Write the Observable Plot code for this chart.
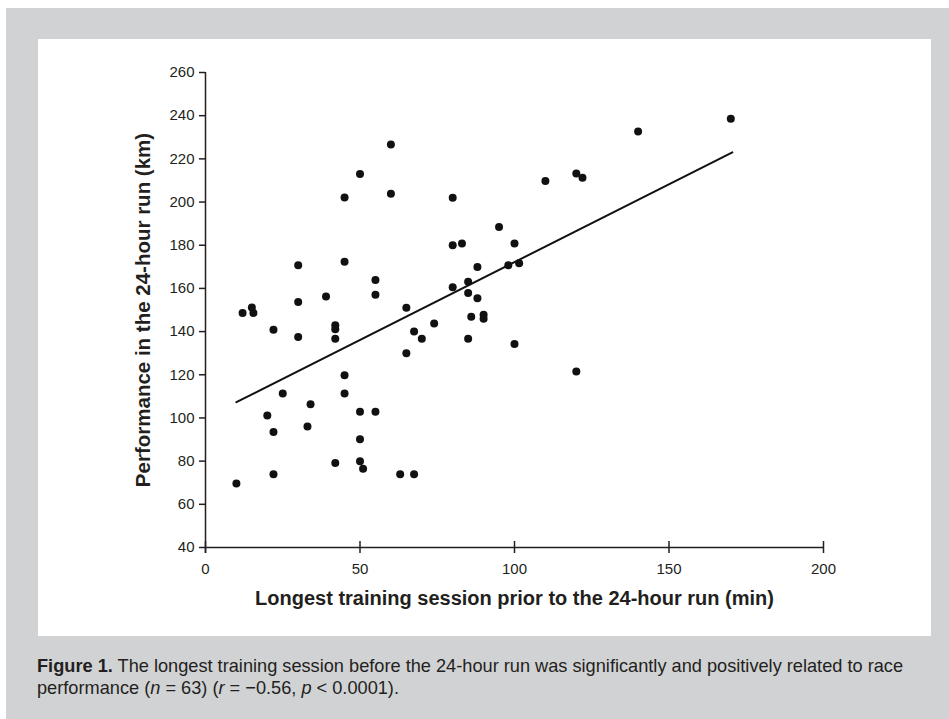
<!DOCTYPE html>
<html>
<head>
<meta charset="utf-8">
<script src="https://cdn.jsdelivr.net/npm/d3@7"></script>
<script src="https://cdn.jsdelivr.net/npm/@observablehq/plot@0.6"></script>
<style>
  html, body { margin: 0; padding: 0; background: #ffffff; }
  body { width: 949px; height: 719px; position: relative; overflow: hidden; font-family: "Liberation Sans", Arial, sans-serif; }
  #grey { position: absolute; left: 6px; top: 8px; width: 943px; height: 711px; background: #d1d2d4; }
  #panel { position: absolute; left: 38px; top: 39px; width: 893px; height: 597px; background: #ffffff; }
  #caption { position: absolute; left: 37px; top: 655px; width: 880px; font-size: 18.2px; line-height: 22px; color: #231f20; }
</style>
</head>
<body>
<div id="grey"></div>
<div id="panel"></div>
<div id="caption"><b>Figure 1.</b> The longest training session before the 24-hour run was significantly and positively related to race performance (<i>n</i> = 63) (<i>r</i> = −0.56, <i>p</i> &lt; 0.0001).</div>
<script>
// Longest training session (min)
const trainingMin = [30, 45, 55, 55, 39, 30, 12, 15, 15.5, 22, 30, 42, 42, 42, 45, 45, 25, 34, 20, 50, 55, 33, 22, 50, 42, 50, 51, 22, 63, 67.5, 10,
  65, 67.5, 70, 65, 74, 80, 85, 85, 88, 88, 86, 90, 90, 85, 98, 101.5, 100, 60, 50, 45, 60, 80, 95, 80, 83, 100, 170, 140, 120, 122, 110, 120];
// Performance in the 24-hour run (km)
const performanceKm = [170.7, 172.3, 163.9, 157.1, 156.3, 153.7, 148.6, 151.2, 148.6, 140.9, 137.5, 142.9, 141.1, 136.7, 119.8, 111.3, 111.3, 106.3, 101.1, 102.9, 102.9, 96.1, 93.5, 90.1, 79.1, 79.9, 76.5, 73.9, 73.9, 73.9, 69.7,
  151.1, 140.1, 136.7, 130, 143.7, 160.5, 163.1, 157.9, 169.9, 155.4, 146.9, 147.8, 146, 136.7, 170.7, 171.6, 134.2, 226.7, 213, 202.1, 203.8, 202, 188.5, 180, 180.8, 180.8, 238.6, 232.7, 213.2, 211.3, 209.8, 121.5];
// Regression line end points
const fitX = [10, 170.5];
const fitY = [107.3, 223];
// Tick values
const xTicks = [0, 50, 100, 150, 200];
const yTicks = [40, 60, 80, 100, 120, 140, 160, 180, 200, 220, 240, 260];
const xLabel = "Longest training session prior to the 24-hour run (min)";
const yLabel = "Performance in the 24-hour run (km)";

const points = trainingMin.map((x, i) => ({x, y: performanceKm[i]}));
const fit = fitX.map((x, i) => ({x, y: fitY[i]}));

const chart = Plot.plot({
  width: 893,
  height: 597,
  marginLeft: 167,
  marginRight: 108,
  marginTop: 33,
  marginBottom: 89,
  style: {fontFamily: "'Liberation Sans', Arial, sans-serif", fontSize: "15px", color: "#231f20", background: "transparent"},
  x: {domain: [0, 200]},
  y: {domain: [40, 260]},
  marks: [
    Plot.ruleX([0], {stroke: "#231f20", strokeWidth: 1.5, insetBottom: -6}),
    Plot.ruleY([40], {stroke: "#231f20", strokeWidth: 1.5}),
    Plot.axisY({ticks: yTicks, tickSize: 6, tickPadding: 5, strokeWidth: 1.5, fontSize: 15, label: null}),
    Plot.axisX({ticks: xTicks, tickSize: 12, dy: -6, tickPadding: 10, strokeWidth: 1.5, fontSize: 15, label: null}),
    Plot.text([yLabel], {frameAnchor: "left", textAnchor: "middle", dx: -62, rotate: -90, fontSize: 20.5, fontWeight: "bold", fill: "#231f20"}),
    Plot.text([xLabel], {frameAnchor: "bottom", textAnchor: "middle", dy: 57, fontSize: 20, fontWeight: "bold", fill: "#231f20"}),
    Plot.line(fit, {x: "x", y: "y", stroke: "#111", strokeWidth: 2}),
    Plot.dot(points, {x: "x", y: "y", r: 4, fill: "#111", stroke: "none"})
  ]
});
chart.style.position = "absolute";
chart.style.left = "0px";
chart.style.top = "0px";
document.getElementById("panel").appendChild(chart);
</script>
</body>
</html>
